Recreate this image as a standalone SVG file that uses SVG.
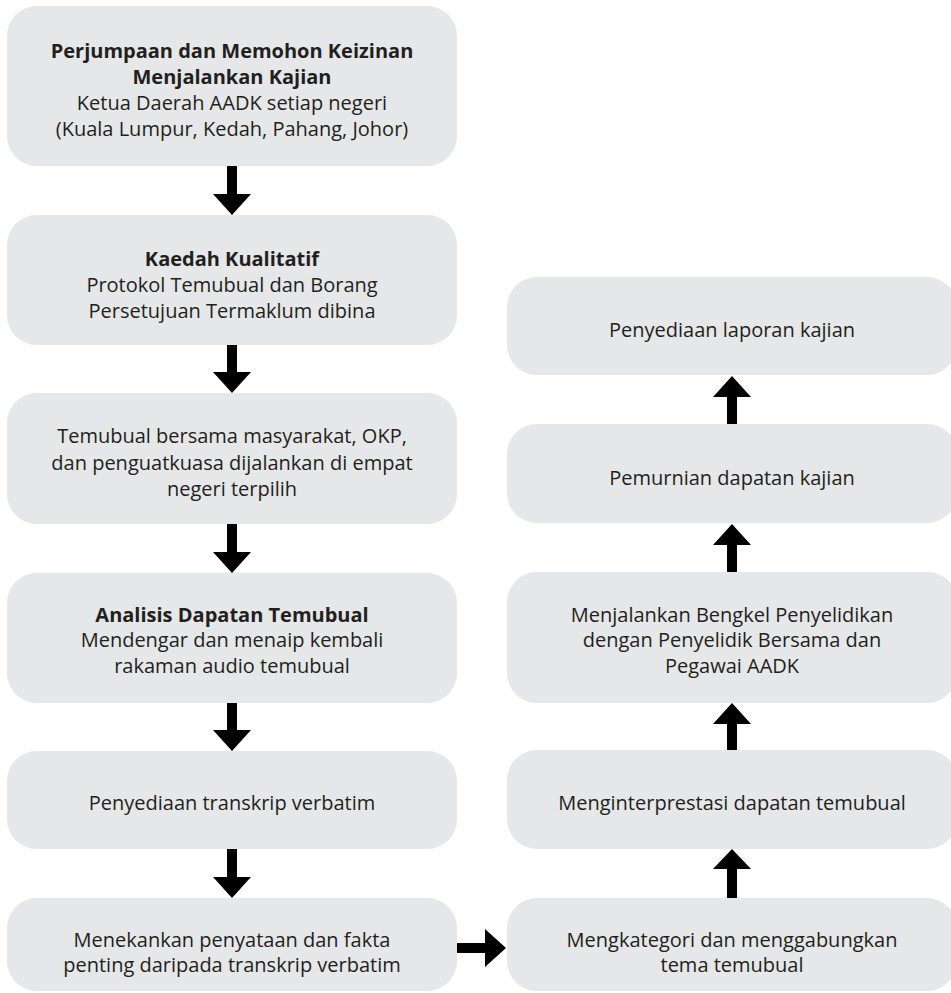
<svg xmlns="http://www.w3.org/2000/svg" width="951" height="993" viewBox="0 0 951 993">
  <style>
    .box { fill: #e6e7e8; }
    .t { font-family: "Open Sans", Lato, "Liberation Sans", sans-serif; font-size: 20px; fill: #231f20; text-anchor: middle; }
    .b { font-weight: bold; }
    .arr { fill: #000000; }
  </style>
  <rect width="951" height="993" fill="#ffffff"/>

  <g id="n1">
    <rect class="box" x="7" y="6" width="450" height="160" rx="30"/>
    <text class="t b" x="232" y="58">Perjumpaan dan Memohon Keizinan</text>
    <text class="t b" x="232" y="84">Menjalankan Kajian</text>
    <text class="t" x="232" y="110">Ketua Daerah AADK setiap negeri</text>
    <text class="t" x="232" y="136">(Kuala Lumpur, Kedah, Pahang, Johor)</text>
  </g>
  <g id="n2">
    <rect class="box" x="7" y="215" width="450" height="130" rx="30"/>
    <text class="t b" x="232" y="266">Kaedah Kualitatif</text>
    <text class="t" x="232" y="292">Protokol Temubual dan Borang</text>
    <text class="t" x="232" y="318">Persetujuan Termaklum dibina</text>
  </g>
  <g id="n3">
    <rect class="box" x="7" y="393" width="450" height="131" rx="30"/>
    <text class="t" x="232" y="443">Temubual bersama masyarakat, OKP,</text>
    <text class="t" x="232" y="470">dan penguatkuasa dijalankan di empat</text>
    <text class="t" x="232" y="496">negeri terpilih</text>
  </g>
  <g id="n4">
    <rect class="box" x="7" y="573" width="450" height="130" rx="30"/>
    <text class="t b" x="232" y="622">Analisis Dapatan Temubual</text>
    <text class="t" x="232" y="647">Mendengar dan menaip kembali</text>
    <text class="t" x="232" y="673">rakaman audio temubual</text>
  </g>
  <g id="n5">
    <rect class="box" x="7" y="751" width="450" height="98" rx="30"/>
    <text class="t" x="232" y="810">Penyediaan transkrip verbatim</text>
  </g>
  <g id="n6">
    <rect class="box" x="7" y="898" width="450" height="93" rx="30"/>
    <text class="t" x="232" y="947">Menekankan penyataan dan fakta</text>
    <text class="t" x="232" y="972">penting daripada transkrip verbatim</text>
  </g>

  <g id="n7">
    <rect class="box" x="507" y="898" width="450" height="93" rx="30"/>
    <text class="t" x="732" y="947">Mengkategori dan menggabungkan</text>
    <text class="t" x="732" y="972">tema temubual</text>
  </g>
  <g id="n8">
    <rect class="box" x="507" y="750" width="450" height="99" rx="30"/>
    <text class="t" x="732" y="810">Menginterprestasi dapatan temubual</text>
  </g>
  <g id="n9">
    <rect class="box" x="507" y="572" width="450" height="131" rx="30"/>
    <text class="t" x="732" y="622">Menjalankan Bengkel Penyelidikan</text>
    <text class="t" x="732" y="647">dengan Penyelidik Bersama dan</text>
    <text class="t" x="732" y="673">Pegawai AADK</text>
  </g>
  <g id="n10">
    <rect class="box" x="507" y="424" width="450" height="99" rx="30"/>
    <text class="t" x="732" y="485">Pemurnian dapatan kajian</text>
  </g>
  <g id="n11">
    <rect class="box" x="507" y="277" width="450" height="98" rx="30"/>
    <text class="t" x="732" y="337">Penyediaan laporan kajian</text>
  </g>

  <g id="connectors" class="arr">
    <!-- left column, downward -->
    <polygon points="227,166 237,166 237,194 251,194 232,215 213,194 227,194"/>
    <polygon points="227,345 237,345 237,372 251,372 232,393 213,372 227,372"/>
    <polygon points="227,524 237,524 237,552 251,552 232,573 213,552 227,552"/>
    <polygon points="227,703 237,703 237,730 251,730 232,751 213,730 227,730"/>
    <polygon points="227,849 237,849 237,877 251,877 232,898 213,877 227,877"/>
    <!-- horizontal -->
    <polygon points="457,943 457,953 485,953 485,967 506,948 485,929 485,943"/>
    <!-- right column, upward -->
    <polygon points="727,898 737,898 737,869 751,869 732,849 713,869 727,869"/>
    <polygon points="727,750 737,750 737,724 751,724 732,703 713,724 727,724"/>
    <polygon points="727,572 737,572 737,545 751,545 732,524 713,545 727,545"/>
    <polygon points="727,424 737,424 737,397 751,397 732,376 713,397 727,397"/>
  </g>
</svg>
